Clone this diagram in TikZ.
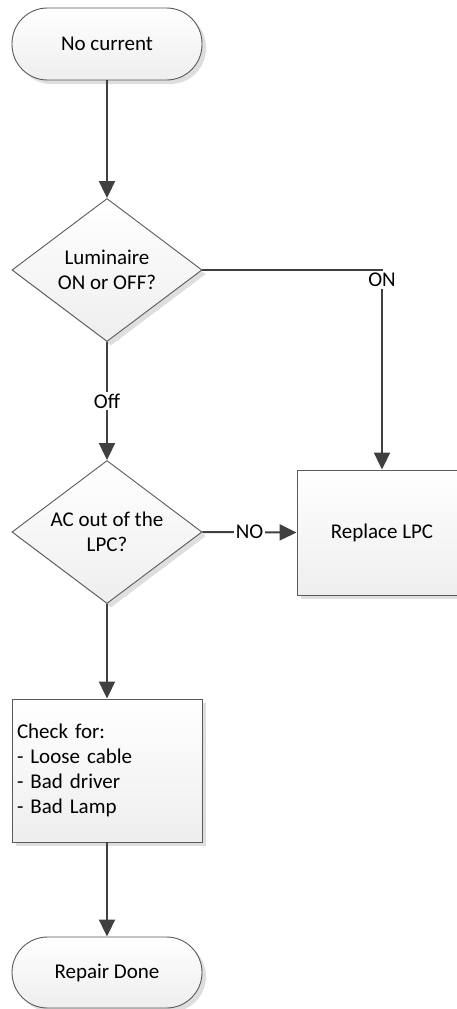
\documentclass[tikz,border=0pt]{standalone}
\usepackage{fontspec}
\setmainfont{Carlito}
\usetikzlibrary{shapes.geometric,arrows.meta,shadows}

\definecolor{linegray}{RGB}{64,64,64}
\definecolor{edgegray}{RGB}{90,90,90}
\definecolor{fillbot}{RGB}{238,238,238}
\definecolor{shadowgray}{RGB}{222,222,222}

\tikzset{
  base/.style={draw=edgegray, line width=0.9pt, top color=white, bottom color=fillbot,
    drop shadow={shadow xshift=4pt, shadow yshift=-4pt, fill=shadowgray, opacity=1},
    font=\fontsize{21pt}{25pt}\selectfont, inner sep=0pt},
  terminal/.style={base, rectangle, rounded corners=35.5pt, minimum width=190pt},
  decision/.style={base, diamond, minimum width=190pt, minimum height=143pt},
  procbox/.style={base, rectangle},
  flow/.style={draw=linegray, line width=2pt, -{Triangle[length=17pt,width=16pt]}},
  lbl/.style={fill=white, inner sep=2pt, font=\fontsize{21pt}{25pt}\selectfont},
  dectext/.style={align=center, font=\fontsize{21pt}{25pt}\selectfont, inner sep=0pt}
}

\begin{document}
\begin{tikzpicture}[x=1pt, y=-1pt]
\useasboundingbox (0,0) rectangle (457,1009);

% shapes
\node[terminal, minimum height=72pt] (start) at (107,44) {No current};
\node[decision, label={[dectext]center:Luminaire\\ON or OFF?}] (d1) at (107,270) {};
\node[decision, label={[dectext]center:AC out of the\\LPC?}] (d2) at (107,532) {};
\node[procbox, minimum width=170pt, minimum height=125pt] (rep) at (382,532.5) {Replace LPC};
\node[procbox, minimum width=190pt, minimum height=143pt, text width=180pt,
      align=left, inner xsep=5pt] (check) at (107,770.5)
      {Check for:\\- Loose cable\\- Bad driver\\- Bad Lamp};
\node[terminal, minimum height=71pt] (done) at (107,972.5) {Repair Done};

% connectors
\draw[flow] (start) -- (d1.north);
\draw[flow] (d1.east) -| node[lbl, pos=0.525] {ON} (rep.north);
\draw[flow] (d1.south) -- node[lbl] {Off} (d2.north);
\draw[flow] (d2.east) -- node[lbl] {NO} (rep.west);
\draw[flow] (d2.south) -- (check.north);
\draw[flow] (check.south) -- (done.north);
\end{tikzpicture}
\end{document}
